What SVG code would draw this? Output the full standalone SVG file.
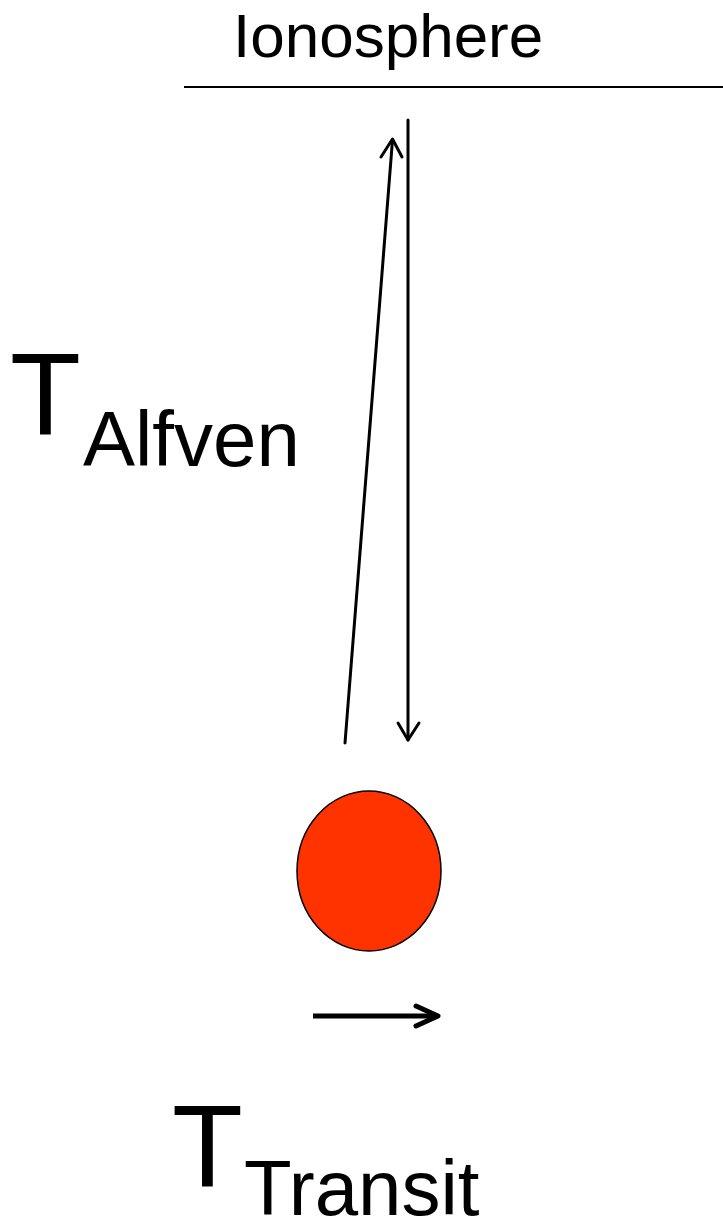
<svg xmlns="http://www.w3.org/2000/svg" width="723" height="1222" viewBox="0 0 723 1222">
<style>
text{font-family:"Liberation Sans",Arial,sans-serif;fill:#000}
.ln{stroke:#000;fill:none;stroke-linecap:round;stroke-linejoin:round}
</style>
<rect width="723" height="1222" fill="#fff"/>
<g id="ionosphere">
<text x="233" y="57" font-size="62">Ionosphere</text>
<line x1="184" y1="87" x2="723" y2="87" stroke="#000" stroke-width="2"/>
</g>
<g id="t-alfven">
<text x="10" y="435" font-size="116">T</text>
<text x="83" y="466" font-size="78">Alfven</text>
</g>
<g id="particle">
<ellipse cx="369" cy="871" rx="72" ry="80" fill="#FF3300" stroke="#000" stroke-width="1.5"/>
</g>
<g id="t-transit">
<text x="172" y="1187" font-size="116">T</text>
<text x="244" y="1215" font-size="78">Transit</text>
</g>
<g id="connectors">
<line class="ln" x1="345" y1="743" x2="392.5" y2="140" stroke-width="3"/>
<polyline class="ln" points="381,157 392.5,139 402,157" stroke-width="3"/>
<line class="ln" x1="408" y1="120" x2="408" y2="740" stroke-width="3"/>
<polyline class="ln" points="398,723 408,740 419,723" stroke-width="3"/>
<line x1="313" y1="1016" x2="438" y2="1016" stroke="#000" stroke-width="5"/>
<polyline class="ln" points="416,1006 438,1016 416,1026" stroke-width="5"/>
</g>
</svg>
